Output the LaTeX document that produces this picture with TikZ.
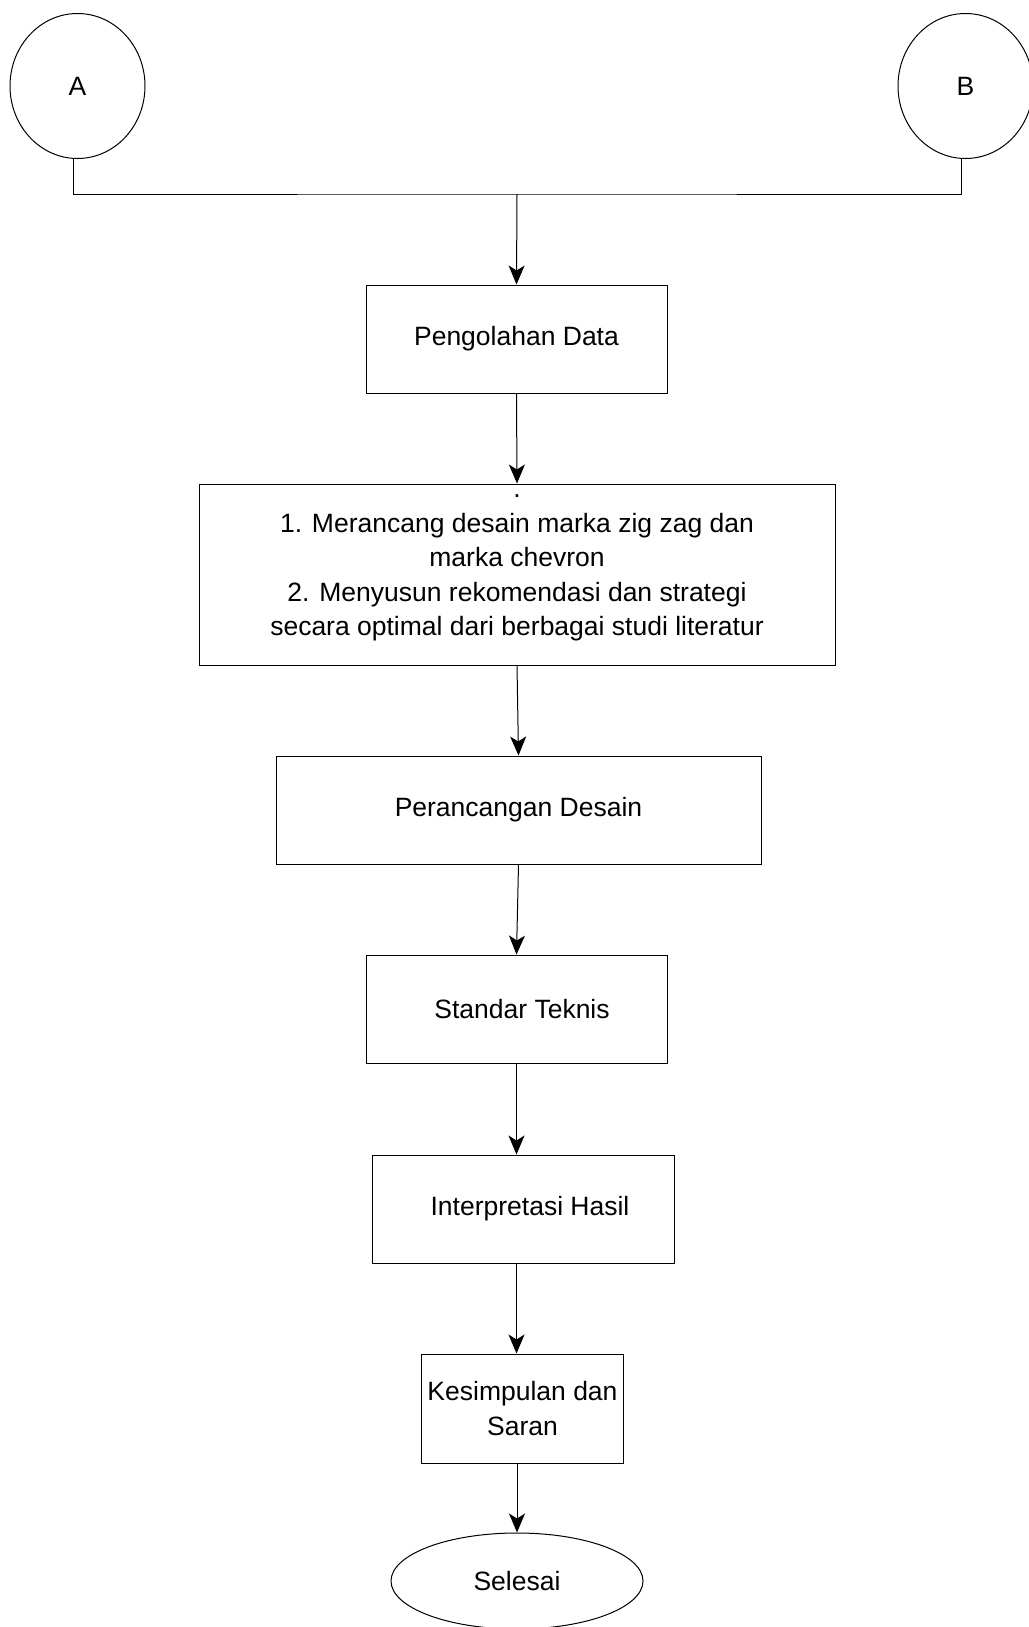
\documentclass[tikz,border=0pt]{standalone}
\usepackage{fontspec}
\setmainfont{Liberation Sans}
\usepackage{tikz}
\usetikzlibrary{shapes.geometric}
\usetikzlibrary{arrows.meta}

\tikzstyle{connector} = [draw=black, line width=1pt]
\tikzstyle{flowarrow} = [connector, -{Stealth[length=19pt, width=16pt, inset=5pt]}]
\tikzstyle{stepbox} = [draw=black, fill=white, line width=1pt, rectangle,
inner sep=2pt, align=center]
\tikzstyle{terminal} = [draw=black, fill=white, line width=1pt, ellipse,
inner sep=0pt, align=center]

\begin{document}
\begin{tikzpicture}[x=1pt, y=-1pt, font=\fontsize{26.5}{34.5}\selectfont]
        \useasboundingbox (0,0) rectangle (1028,1627);
        \node [terminal, minimum width=135pt, minimum height=145pt] (mulaiA) at (77.5,86) {A};
        \node [terminal, minimum width=135pt, minimum height=145pt] (mulaiB) at (965.5,86) {B};
        \coordinate (gabung) at (517,194);
        \node [stepbox, minimum width=301pt, minimum height=108pt] (olah) at (516.5,339) {Pengolahan Data};
        \node [stepbox, minimum width=636pt, minimum height=181pt] (analisis) at (517,574.5) {};
        \node [align=center, inner sep=0pt] (analisistext) at ([yshift=17pt]analisis.center) {%
            \strut.\\
            1. Merancang desain marka zig zag dan\\
            marka chevron\\
            2. Menyusun rekomendasi dan strategi\\
            secara optimal dari berbagai studi literatur};
        \node [stepbox, minimum width=485pt, minimum height=108pt] (rancang) at (518.5,810) {Perancangan Desain};
        \node [stepbox, minimum width=301pt, minimum height=108pt] (standar) at (516.5,1009) {\hspace{11pt}Standar Teknis};
        \node [stepbox, minimum width=302pt, minimum height=108pt] (interpretasi) at (523,1209) {\hspace{14pt}Interpretasi Hasil};
        \node [stepbox, minimum width=202pt, minimum height=109pt] (simpulan) at (522.5,1408.5) {Kesimpulan dan\\Saran};
        \node [terminal, minimum width=252pt, minimum height=96pt] (selesai) at (517,1581) {Selesai};

        \draw [connector] ([xshift=-4.5pt]mulaiA.south) |- (gabung) -| ([xshift=-4.5pt]mulaiB.south);
        \draw [flowarrow] (gabung) -- (olah.north);
        \draw [flowarrow] (olah.south) -- (analisis.north);
        \draw [flowarrow] (analisis.south) -- (rancang.north);
        \draw [flowarrow] (rancang.south) -- (standar.north);
        \draw [flowarrow] (standar.south) -- (standar.south |- interpretasi.north);
        \draw [flowarrow] (interpretasi.south -| standar) -- (simpulan.north -| standar);
        \draw [flowarrow] (simpulan.south -| selesai) -- (selesai.north);
    \end{tikzpicture}
\end{document}
